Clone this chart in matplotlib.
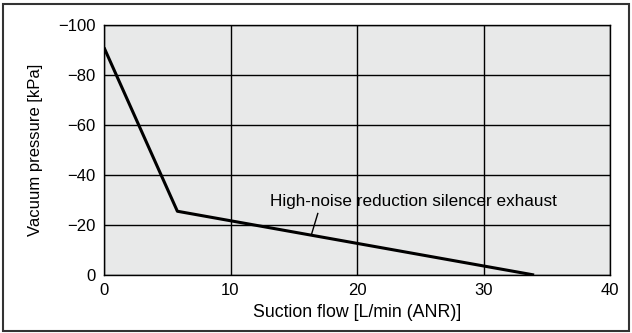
import matplotlib
matplotlib.use('Agg')
import matplotlib.pyplot as plt
from matplotlib.patches import Rectangle

plt.rcParams['font.family'] = ['Liberation Sans', 'DejaVu Sans']
plt.rcParams['axes.unicode_minus'] = True

# suction flow [L/min (ANR)] vs vacuum pressure [kPa]
flow = [0, 5.8, 34]
pressure = [-91, -25.5, 0]

xticks = [0, 10, 20, 30, 40]
yticks = [0, -20, -40, -60, -80, -100]
curve_label = 'High-noise reduction silencer exhaust'

W, H = 632, 333
fig = plt.figure(figsize=(W / 100, H / 100), dpi=100)
ax = fig.add_axes([104 / W, 1 - 275 / H, (610 - 104) / W, (275 - 25) / H])
ax.set_facecolor('#e8e9e9')

ax.plot(flow, pressure, color='black', lw=2.2, solid_capstyle='butt', zorder=3)

ax.set_xlim(0, 40)
ax.set_ylim(0, -100)
ax.set_xticks(xticks)
ax.set_yticks(yticks)
ax.set_yticklabels(['0'] + ['\u2212%d' % abs(v) for v in yticks[1:]])
ax.tick_params(length=0, labelsize=12, pad=6)
ax.grid(True, color='black', lw=1)
ax.set_axisbelow(True)
for s in ax.spines.values():
    s.set_linewidth(1)

ax.set_xlabel('Suction flow [L/min (ANR)]', fontsize=12.8, labelpad=4)
ax.set_ylabel('Vacuum pressure [kPa]', fontsize=12, labelpad=11)

ax.text(13.1, -29.5, curve_label, fontsize=12.3, va='center', ha='left', zorder=4)
ax.plot([16.9, 16.4], [-24.6, -16.2], color='black', lw=1, zorder=4)

# outer frame around the whole figure
fig.patches.append(Rectangle((3 / W, 2 / H), 626 / W, 327 / H,
                             transform=fig.transFigure, fill=False,
                             edgecolor='#333333', lw=1.5))

fig.savefig('out.png', dpi=100)
